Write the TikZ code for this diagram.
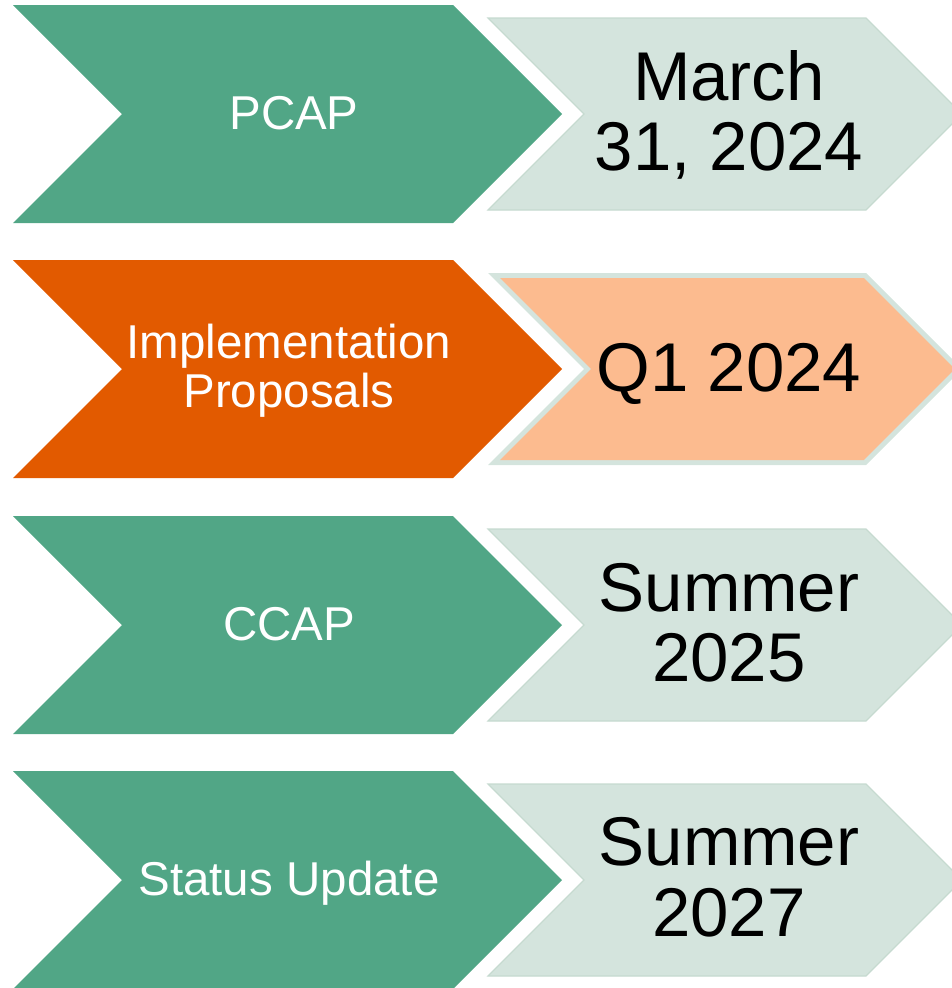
\documentclass[tikz,border=0pt]{standalone}
\usepackage{fontspec}
\setmainfont{Liberation Sans}
\definecolor{greenC}{RGB}{81,166,134}
\definecolor{orangeC}{RGB}{226,90,0}
\definecolor{lightC}{RGB}{212,228,221}
\definecolor{peachC}{RGB}{252,187,143}
\definecolor{edgeC}{RGB}{198,218,208}
\begin{document}
\begin{tikzpicture}[x=1pt,y=-1pt,
  wtext/.style={text=white,font=\fontsize{47.5}{49}\selectfont,inner sep=0pt,anchor=base},
  dtext/.style={text=black,font=\fontsize{69}{72}\selectfont,inner sep=0pt,anchor=base},
  pics/bigchev/.style={code={\fill[#1] (13,0) -- (453,0) -- (562,109) -- (453,218) -- (13,218) -- (122,109) -- cycle;}},
  pics/smallchev/.style={code={\path[fill=lightC,draw=edgeC,line width=1.2pt] (488,13) -- (866,13) -- (962,109) -- (866,205) -- (488,205) -- (584,109) -- cycle;}},
  pics/peachchev/.style={code={
    \fill[lightC] (488,13) -- (866,13) -- (962,109) -- (866,205) -- (488,205) -- (584,109) -- cycle;
    \fill[peachC] (500.1,18) -- (863.9,18) -- (954.9,109) -- (863.9,200) -- (500.1,200) -- (591.1,109) -- cycle;}}
]
\useasboundingbox (0,0) rectangle (952,988);
\clip (0,0) rectangle (952,988);

% Row 1
\pic at (0,5) {bigchev=greenC};
\pic at (0,5) {smallchev};
\node[wtext] (pcap) at (294,129) {PCAP};
\node[dtext] (d1a) at (729,100) {March};
\node[dtext] (d1b) at (729,170.5) {31, 2024};

% Row 2
\pic at (0,260) {bigchev=orangeC};
\pic at (0,260) {peachchev};
\node[wtext] (imp1) at (289,358) {Implementation};
\node[wtext] (imp2) at (289,407.5) {Proposals};
\node[dtext] (d2) at (729,391.7) {Q1 2024};

% Row 3
\pic at (0,516) {bigchev=greenC};
\pic at (0,516) {smallchev};
\node[wtext] (ccap) at (289,640) {CCAP};
\node[dtext] (d3a) at (729,611) {Summer};
\node[dtext] (d3b) at (729,681.5) {2025};

% Row 4
\pic at (0,771) {bigchev=greenC};
\pic at (0,771) {smallchev};
\node[wtext] (stat) at (289,895) {Status Update};
\node[dtext] (d4a) at (729,865.5) {Summer};
\node[dtext] (d4b) at (729,936) {2027};
\end{tikzpicture}
\end{document}
